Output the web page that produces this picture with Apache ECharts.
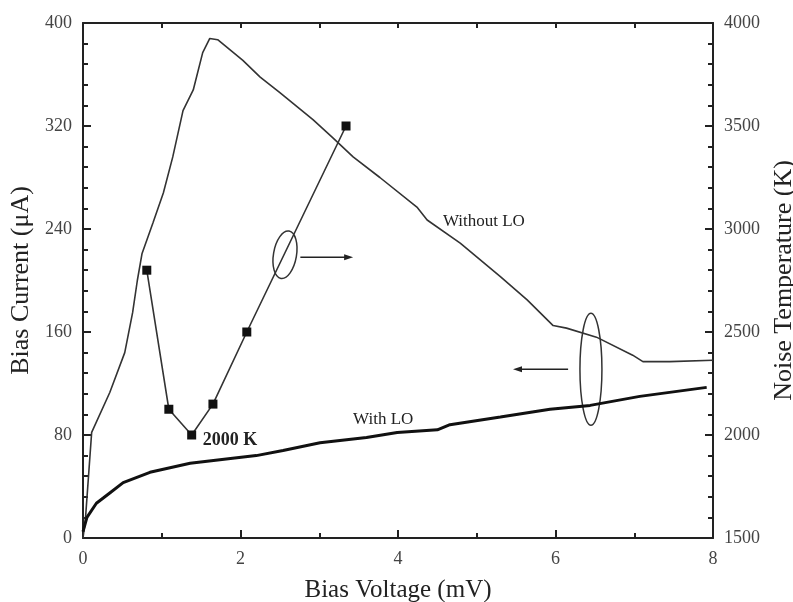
<!DOCTYPE html>
<html>
<head>
<meta charset="utf-8">
<script src="https://cdn.jsdelivr.net/npm/echarts@6/dist/echarts.min.js"></script>
<style>
  html, body { margin: 0; padding: 0; background: #fff; }
  #chart { width: 793px; height: 602px; }
</style>
</head>
<body>
<div id="chart"></div>
<script>
// bias voltage (mV) / bias current (uA), pumped and unpumped curves
var voltNoLO = [0, 0.03, 0.11, 0.34, 0.53, 0.63, 0.69, 0.75, 0.89, 1.02, 1.14, 1.27, 1.40, 1.52, 1.61, 1.71,
                2.03, 2.25, 2.5, 2.92, 3.17, 3.43, 3.77, 4.24, 4.37, 4.79, 5.30, 5.64, 5.97, 6.14, 6.52, 6.98, 7.11, 7.45, 8.0];
var currNoLO = [0, 14, 82, 113, 144, 175, 200, 221, 245, 268, 296, 332, 348, 377, 388, 387,
                371, 358, 346, 325, 311, 296, 280, 257, 247, 229, 203, 185, 165, 163, 156, 142, 137, 137, 138];

var voltLO = [0, 0.05, 0.17, 0.34, 0.51, 0.85, 1.36, 1.90, 2.2, 2.54, 3.01, 3.6, 3.99, 4.5, 4.66, 5.3, 5.93, 6.44, 7.07, 7.92];
var currLO = [5, 16, 27, 35, 43, 51, 58, 62, 64, 68, 74, 78, 82, 84, 88, 94, 100, 103, 110, 117];

// measured noise temperature (K)
var voltT = [0.81, 1.09, 1.38, 1.65, 2.08, 3.34];
var noiseT = [2800, 2125, 2000, 2150, 2500, 3500];

var xTicks = [0, 2, 4, 6, 8];
var leftTicks = [0, 80, 160, 240, 320, 400];
var rightTicks = [1500, 2000, 2500, 3000, 3500, 4000];

function pairs(xs, ys) {
    var out = [];
    for (var i = 0; i < xs.length; i++) out.push([xs[i], ys[i]]);
    return out;
}

var serif = '"Liberation Serif", "DejaVu Serif", serif';
var axisCol = '#222';
var labelStyle = { fontFamily: serif, fontSize: 18, color: '#444' };
var frameLine = { show: true, onZero: false, lineStyle: { color: axisCol, width: 2 } };

// an axis that only draws short inward ticks (the minor ticks)
function tickAxis(pos, min, max, step) {
    return {
        type: 'value', position: pos, min: min, max: max, interval: step,
        axisLine: { show: false, onZero: false },
        axisTick: { show: true, inside: true, length: 5, lineStyle: { color: axisCol, width: 2 } },
        axisLabel: { show: false },
        splitLine: { show: false }
    };
}

var chart = echarts.init(document.getElementById('chart'));

var option = {
    animation: false,
    backgroundColor: '#fff',
    grid: { left: 83, right: 80, top: 23, bottom: 64, outerBoundsMode: 'none' },
    xAxis: [
        {
            type: 'value', min: xTicks[0], max: xTicks[xTicks.length - 1], interval: 2,
            position: 'bottom',
            name: 'Bias Voltage (mV)', nameLocation: 'middle', nameGap: 40,
            nameTextStyle: { fontFamily: serif, fontSize: 25, color: axisCol },
            axisLine: frameLine,
            axisTick: { inside: true, length: 8, lineStyle: { color: axisCol, width: 2 } },
            axisLabel: Object.assign({ margin: 12 }, labelStyle),
            splitLine: { show: false }
        },
        {
            type: 'value', min: 0, max: 8, interval: 1,
            position: 'top',
            axisLine: frameLine,
            axisTick: { inside: true, length: 5, lineStyle: { color: axisCol, width: 2 } },
            axisLabel: { show: false },
            splitLine: { show: false }
        },
        tickAxis('bottom', 0, 8, 1)
    ],
    yAxis: [
        {
            type: 'value', min: leftTicks[0], max: leftTicks[leftTicks.length - 1], interval: 80,
            position: 'left',
            name: 'Bias Current (\u03bcA)', nameLocation: 'middle', nameGap: 41, nameRotate: 90,
            nameTextStyle: { fontFamily: serif, fontSize: 26, color: axisCol },
            axisLine: frameLine,
            axisTick: { inside: true, length: 8, lineStyle: { color: axisCol, width: 2 } },
            axisLabel: Object.assign({ margin: 11 }, labelStyle),
            splitLine: { show: false }
        },
        {
            type: 'value', min: rightTicks[0], max: rightTicks[rightTicks.length - 1], interval: 500,
            position: 'right',
            name: 'Noise Temperature (K)', nameLocation: 'middle', nameGap: 48, nameRotate: 90,
            nameTextStyle: { fontFamily: serif, fontSize: 26, color: axisCol },
            axisLine: frameLine,
            axisTick: { inside: true, length: 8, lineStyle: { color: axisCol, width: 2 } },
            axisLabel: Object.assign({ margin: 11, formatter: function (v) { return String(v); } }, labelStyle),
            splitLine: { show: false }
        },
        tickAxis('left', 0, 400, 16),
        tickAxis('right', 1500, 4000, 100)
    ],
    series: [
        {
            name: 'Without LO', type: 'line', xAxisIndex: 0, yAxisIndex: 0,
            showSymbol: false, symbol: 'none',
            lineStyle: { color: '#333', width: 1.6 },
            data: pairs(voltNoLO, currNoLO)
        },
        {
            name: 'With LO', type: 'line', xAxisIndex: 0, yAxisIndex: 0,
            showSymbol: false, symbol: 'none',
            lineStyle: { color: '#111', width: 3 },
            data: pairs(voltLO, currLO)
        },
        {
            name: 'Noise', type: 'line', xAxisIndex: 0, yAxisIndex: 1,
            symbol: 'rect', symbolSize: 9,
            itemStyle: { color: '#111' },
            lineStyle: { color: '#333', width: 1.6 },
            data: pairs(voltT, noiseT),
            z: 3
        }
    ]
};
chart.setOption(option);

// annotations, placed in data coordinates of the left axis
function px(x, y) {
    return chart.convertToPixel({ xAxisIndex: 0, yAxisIndex: 0 }, [x, y]);
}
function arrow(from, to) {
    var a = px(from[0], from[1]), b = px(to[0], to[1]);
    var dir = b[0] > a[0] ? 1 : -1;
    return [
        { type: 'line', shape: { x1: a[0], y1: a[1], x2: b[0] - dir * 6, y2: b[1] },
          style: { stroke: '#222', lineWidth: 1.5 } },
        { type: 'polygon', shape: { points: [[b[0], b[1]], [b[0] - dir * 9, b[1] - 3], [b[0] - dir * 9, b[1] + 3]] },
          style: { fill: '#222' } }
    ];
}
var e1 = px(2.565, 220), e2 = px(6.45, 131);
var t1 = px(4.57, 246), t2 = px(3.43, 92), t3 = px(1.52, 76);
var txt = function (p, s, size, bold) {
    return { type: 'text', x: p[0], y: p[1],
        style: { text: s, fill: '#222', font: (bold ? 'bold ' : '') + size + 'px ' + serif, textVerticalAlign: 'middle' } };
};

var graphics = [
    { type: 'ellipse', x: e1[0], y: e1[1], rotation: -0.17, shape: { cx: 0, cy: 0, rx: 11.5, ry: 24 },
      style: { fill: 'none', stroke: '#333', lineWidth: 1.5 } },
    { type: 'ellipse', shape: { cx: e2[0], cy: e2[1], rx: 11, ry: 56 },
      style: { fill: 'none', stroke: '#333', lineWidth: 1.5 } },
    txt(t1, 'Without LO', 17, false),
    txt(t2, 'With LO', 17, false),
    txt(t3, '2000 K', 18, true)
].concat(arrow([2.76, 218], [3.43, 218])).concat(arrow([6.16, 131], [5.46, 131]));

chart.setOption({ graphic: graphics });
</script>
</body>
</html>
